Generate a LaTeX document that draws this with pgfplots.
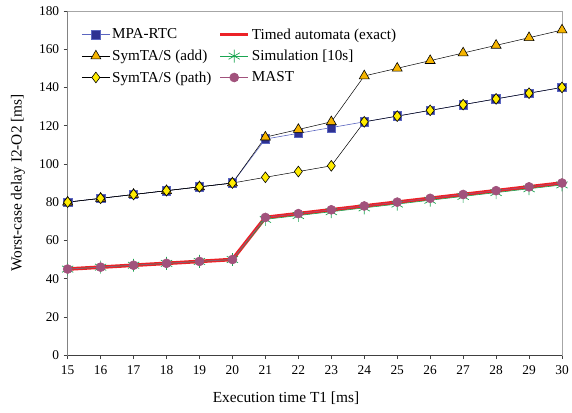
\documentclass[border=0pt]{standalone}
\usepackage{pgfplots}
\pgfplotsset{compat=1.18}
\usepackage{fontspec}
\setmainfont{Liberation Serif}
\definecolor{mpafill}{HTML}{2E3192}
\definecolor{mpaline}{HTML}{5B66C0}
\definecolor{triorange}{HTML}{F7B500}
\definecolor{diayellow}{HTML}{FFEC00}
\definecolor{tared}{HTML}{EC2227}
\definecolor{simgreen}{HTML}{1AA551}
\definecolor{mastpurple}{HTML}{A1527C}
\begin{document}
\begin{tikzpicture}
\begin{axis}[
  name=ax,
  scale only axis,
  width=497bp, height=346bp,
  xmin=15, xmax=30, ymin=0, ymax=180,
  xtick={15,16,...,30}, ytick={0,20,...,180},
  tick align=outside, tick pos=left,
  major tick length=4bp,
  tick style={draw=black!75, line width=0.6pt},
  axis line style={draw=black!35, line width=0.8pt},
  /pgf/number format/assume math mode=true,
  ticklabel style={font=\fontsize{13.5}{15}\selectfont},
  xticklabel style={yshift=-3bp},
  yticklabel style={xshift=-1bp},
  label style={font=\fontsize{15.5}{17}\selectfont},
  xlabel={Execution time T1 [ms]},
  ylabel={Worst-case delay I2-O2 [ms]},
  xlabel style={at={(axis description cs:0.4416,-0.124)}, anchor=center},
  ylabel style={at={(axis description cs:-0.1006,0.5)}, anchor=center},
  legend columns=2,
  legend cell align=left,
  legend style={at={(axis description cs:0.028,0.955)}, anchor=north west, draw=none, fill=none, inner sep=0pt,
    font=\fontsize{15.3}{17}\selectfont, row sep=5.5bp, /tikz/every even column/.append style={column sep=5bp}},
  legend image code/.code={\draw[mark repeat=2,mark phase=2] plot coordinates {(0bp,0bp)(14bp,0bp)(28bp,0bp)};},
]
\addplot[mpaline, line width=0.6pt, mark=square*, mark size=4.3bp, mark options={fill=mpafill, draw=mpaline, line width=0.7pt}]
 coordinates {(15,80)(16,82)(17,84)(18,86)(19,88)(20,90)(21,113)(22,116)(23,119)(24,122)(25,125)(26,128)(27,131)(28,134)(29,137)(30,140)};
\addlegendentry{MPA-RTC}
\addplot[tared, line width=3.6bp, mark=none]
 coordinates {(15,45)(16,46)(17,47)(18,48)(19,49)(20,50)(21,72)(22,74)(23,76)(24,78)(25,80)(26,82)(27,84)(28,86)(29,88)(30,90)};
\addlegendentry{Timed automata (exact)}
\addplot[black, line width=0.5pt, mark=triangle*, mark size=5.8bp, mark options={fill=triorange, draw=black, line width=0.6pt}]
 coordinates {(15,80)(16,82)(17,84)(18,86)(19,88)(20,90)(21,114)(22,118)(23,122)(24,146)(25,150)(26,154)(27,158)(28,162)(29,166)(30,170)};
\addlegendentry{SymTA/S (add)}
\addplot[simgreen, line width=0.6pt, mark=asterisk, mark size=6.5bp, mark options={draw=simgreen, line width=0.7pt}]
 coordinates {(15,45)(16,46)(17,47)(18,48)(19,49)(20,50)(21,71)(22,73)(23,75)(24,77)(25,79)(26,81)(27,83)(28,85)(29,87)(30,89)};
\addlegendentry{Simulation [10s]}
\addplot[black, line width=0.5pt, mark=diamond*, mark size=5.4bp, mark options={fill=diayellow, draw=black, line width=0.6pt}]
 coordinates {(15,80)(16,82)(17,84)(18,86)(19,88)(20,90)(21,93)(22,96)(23,99)(24,122)(25,125)(26,128)(27,131)(28,134)(29,137)(30,140)};
\addlegendentry{SymTA/S (path)}
\addplot[mastpurple, line width=0.6pt, mark=*, mark size=4.5bp, mark options={fill=mastpurple, draw=mastpurple}]
 coordinates {(15,45)(16,46)(17,47)(18,48)(19,49)(20,50)(21,72)(22,74)(23,76)(24,78)(25,80)(26,82)(27,84)(28,86)(29,88)(30,90)};
\addlegendentry{MAST}
\draw[black!75, line width=0.9pt] (rel axis cs:0,1) -- (rel axis cs:0,0) -- (rel axis cs:1,0);
\end{axis}
\useasboundingbox ([shift={(-68bp,-58bp)}]ax.south west) rectangle ([shift={(7bp,11bp)}]ax.north east);
\end{tikzpicture}
\end{document}
